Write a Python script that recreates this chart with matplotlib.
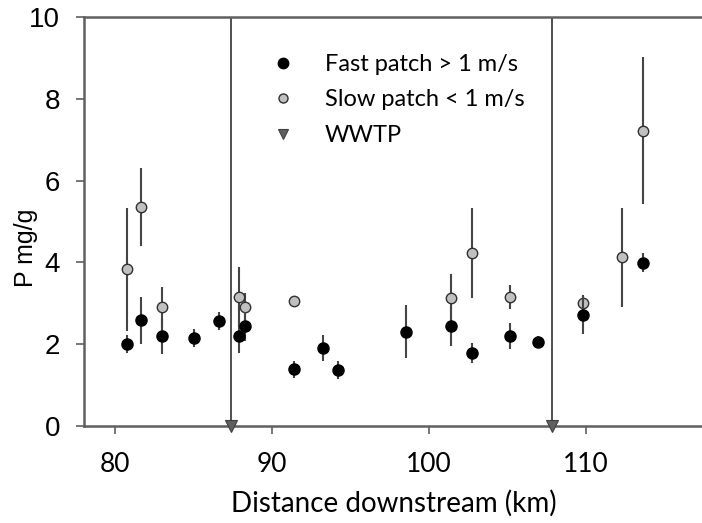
import matplotlib
matplotlib.use("Agg")
import matplotlib.pyplot as plt
from matplotlib.lines import Line2D

# ---- data ----
fast_x = [80.8, 81.65, 82.97, 85.03, 86.62, 87.88, 88.32, 91.43, 93.28, 94.21,
          98.53, 101.40, 102.74, 105.18, 106.93, 109.84, 113.66]
fast_y = [2.00, 2.58, 2.19, 2.15, 2.56, 2.19, 2.44, 1.39, 1.90, 1.38,
          2.31, 2.45, 1.78, 2.20, 2.06, 2.72, 3.99]
fast_err = [0.22, 0.58, 0.43, 0.23, 0.22, 0.40, 0.35, 0.21, 0.32, 0.22,
            0.65, 0.50, 0.25, 0.32, 0.15, 0.47, 0.23]

slow_x = [80.80, 81.67, 82.97, 87.88, 88.32, 91.43, 101.40, 102.74, 105.18, 109.84, 112.30, 113.64]
slow_y = [3.83, 5.35, 2.90, 3.15, 2.90, 3.06, 3.14, 4.23, 3.15, 3.00, 4.12, 7.22]
slow_err = [1.50, 0.95, 0.49, 0.73, 0.35, 0.10, 0.58, 1.10, 0.30, 0.20, 1.20, 1.80]

wwtp_x = [87.37, 107.88]

labels = ["Fast patch > 1 m/s", "Slow patch < 1 m/s", "WWTP"]
xticks = [80, 90, 100, 110]
yticks = [0, 2, 4, 6, 8, 10]

# ---- figure ----
fig = plt.figure(figsize=(7.02, 5.23), dpi=100)
ax = fig.add_axes([0.119, 0.1855, 0.8853, 0.782])

spine_col = "#606060"
bar_col = "#454545"

for xv in wwtp_x:
    ax.axvline(xv, color="#505050", lw=1.4, zorder=1)
    ax.plot([xv], [0], marker="v", ms=8, color="#606060", mec="#404040",
            mew=0.8, clip_on=False, zorder=5)

ax.errorbar(slow_x, slow_y, yerr=slow_err, fmt="none", ecolor=bar_col,
            elinewidth=1.5, capsize=0, zorder=2)
ax.plot(slow_x, slow_y, "o", ms=7.5, mfc="#c0c0c0", mec="#303030", mew=1.0,
        ls="none", zorder=3)
ax.errorbar(fast_x, fast_y, yerr=fast_err, fmt="none", ecolor=bar_col,
            elinewidth=1.5, capsize=0, zorder=3)
ax.plot(fast_x, fast_y, "o", ms=8, mfc="black", mec="black",
        ls="none", zorder=4)

ax.set_xlim(78.0, 117.6)
ax.set_ylim(0, 10)
ax.set_xticks(xticks)
ax.set_yticks(yticks)

for s in ["left", "bottom", "top"]:
    ax.spines[s].set_color(spine_col)
    ax.spines[s].set_linewidth(1.8)
ax.spines["right"].set_visible(False)

ax.tick_params(axis="both", direction="out", length=6, width=1.2,
               color=spine_col)
ax.tick_params(axis="y", pad=11)
ax.tick_params(axis="x", pad=13)
for t in ax.get_yticklabels():
    t.set_fontfamily("Liberation Sans")
    t.set_fontsize(20)
for t in ax.get_xticklabels():
    t.set_fontfamily("Lato")
    t.set_fontsize(19)

ax.set_xlabel("Distance downstream (km)", fontfamily="Lato", fontsize=20,
              labelpad=9)
ax.set_ylabel("P mg/g", fontfamily="Liberation Sans", fontsize=18)
ax.yaxis.set_label_coords(-0.074, 0.435)

handles = [
    Line2D([], [], marker="o", ls="none", ms=7.5, mfc="black", mec="black"),
    Line2D([], [], marker="o", ls="none", ms=6.5, mfc="#c0c0c0", mec="#303030", mew=1.0),
    Line2D([], [], marker="v", ls="none", ms=7.5, mfc="#606060", mec="#404040", mew=0.8),
]
leg = ax.legend(handles, labels, loc="upper left", bbox_to_anchor=(0.249, 0.962),
                frameon=False, handletextpad=0.77, labelspacing=0.62,
                prop={"family": "Lato", "size": 17})

fig.savefig("out.png", dpi=100)
